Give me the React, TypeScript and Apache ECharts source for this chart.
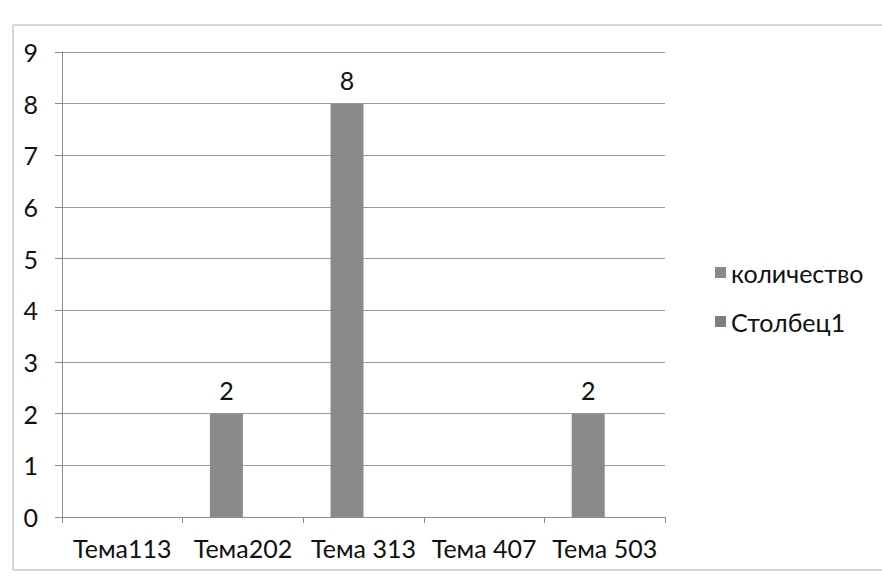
import React, { useEffect, useRef } from "react";
import * as echarts from "echarts";

const categories = ["Тема113", "Тема202", "Тема 313", "Тема 407", "Тема 503"];
const seriesNames = ["количество", "Столбец1"];
const quantity = [null, 2, 8, null, 2];
const column1 = [null, null, null, null, null];
const yMin = 0;
const yMax = 9;
const yStep = 1;

const FONT = "Lato, 'Noto Sans', sans-serif";
const FS = 25;

export default function App() {
  const ref = useRef<HTMLDivElement>(null);
  useEffect(() => {
    if (!ref.current) return;
    const chart = echarts.init(ref.current, null, { renderer: "svg" });
    chart.setOption({
      animation: false,
      backgroundColor: "#ffffff",
      textStyle: { fontFamily: FONT },
      graphic: [
        {
          type: "rect",
          shape: { x: 13, y: 25, width: 900, height: 545 },
          style: { fill: "none", stroke: "#b0b0b0", lineWidth: 1 },
          silent: true,
        },
      ],
      grid: { left: 62, right: 217, top: 52, bottom: 60 },
      legend: {
        orient: "vertical",
        left: 710,
        top: 255,
        itemWidth: 11,
        itemHeight: 11,
        itemGap: 24,
        icon: "rect",
        textStyle: { fontSize: FS, color: "#111111", fontFamily: FONT },
        data: seriesNames,
      },
      xAxis: {
        type: "category",
        data: categories,
        boundaryGap: true,
        axisLine: { lineStyle: { color: "#8c8c8c", width: 1 } },
        axisTick: { show: true, length: 6, alignWithLabel: false, lineStyle: { color: "#8c8c8c" } },
        axisLabel: { fontSize: FS, color: "#111111", margin: 18, fontFamily: FONT, interval: 0 },
      },
      yAxis: {
        type: "value",
        min: yMin,
        max: yMax,
        interval: yStep,
        axisLine: { show: true, lineStyle: { color: "#8c8c8c", width: 1 } },
        axisTick: { show: true, length: 7, lineStyle: { color: "#8c8c8c" } },
        axisLabel: { fontSize: FS, color: "#111111", margin: 24, fontFamily: FONT },
        splitLine: { show: true, lineStyle: { color: "#9a9a9a", width: 1 } },
      },
      series: [
        {
          name: seriesNames[0],
          type: "bar",
          data: quantity,
          barWidth: 33,
          barGap: "0%",
          itemStyle: { color: "#8a8a8a" },
          label: {
            show: true,
            position: "top",
            distance: 11,
            fontSize: FS,
            color: "#111111",
            fontFamily: FONT,
          },
        },
        {
          name: seriesNames[1],
          type: "bar",
          data: column1,
          barWidth: 33,
          barGap: "0%",
          itemStyle: { color: "#7e7e7e" },
        },
      ],
    });
    return () => chart.dispose();
  }, []);
  return (
    <div
      ref={ref}
      style={{ position: "absolute", left: 0, top: 0, width: 882, height: 577 }}
    />
  );
}
